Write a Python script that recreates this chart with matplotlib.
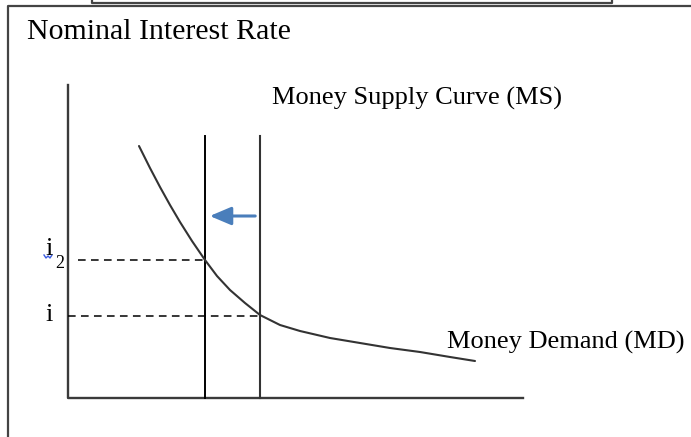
import matplotlib.pyplot as plt

# values (pixel-like units, y grows downward)
md_x = [139, 150, 160, 170, 180, 192, 205, 217, 230, 245, 260, 280, 300,
        330, 360, 390, 420, 450, 475]
md_y = [146, 168, 187, 205, 222, 241, 260, 276, 290, 303, 315, 325, 331,
        338, 343, 348, 352, 357, 361]
ms_x = [205, 260]
ms_top = 136
rate_levels = [260, 316]          # i2, i
rate_labels = ["i", "i"]
rate_dash_start = [78, 68]
axis_origin = (68, 398)
axis_top = 85
axis_right = 523
arrow_y = 216

plt.rcParams["font.family"] = ["Liberation Serif", "DejaVu Serif"]

fig = plt.figure(figsize=(6.91, 4.37), dpi=100)
ax = fig.add_axes([0, 0, 1, 1])
ax.set_xlim(0, 691)
ax.set_ylim(437, 0)
ax.axis("off")

# outer frame and top box
ax.plot([8, 8, 691], [437, 6, 6], color="#444444", lw=1.6)
ax.plot([92, 92, 612, 612], [0, 3, 3, 0], color="#444444", lw=1.6)

# axes
ox, oy = axis_origin
ax.plot([ox, ox, axis_right], [axis_top, oy, oy], color="#3a3a3a", lw=1.7)

# money supply lines
ax.plot([ms_x[0], ms_x[0]], [ms_top, oy], color="black", lw=1.4)
ax.plot([ms_x[1], ms_x[1]], [ms_top, oy], color="#333333", lw=1.5)

# money demand curve
ax.plot(md_x, md_y, color="#333333", lw=1.5, solid_capstyle="round",
        solid_joinstyle="round")

# dashed rate lines
for y, x0, xr in zip(rate_levels, rate_dash_start, ms_x):
    ax.plot([x0, xr], [y, y], color="black", lw=1.1, dashes=(5, 3.5))

# shift arrow
ax.annotate("", xy=(ms_x[0] + 2, arrow_y), xytext=(ms_x[1] - 2, arrow_y),
            arrowprops=dict(arrowstyle="-|>,head_length=1.3,head_width=0.55",
                            color="#4a7ebb", lw=2.2))

# texts
ax.text(27, 39, "Nominal Interest Rate", fontsize=21.5, ha="left", va="baseline")
ax.text(272, 105, "Money Supply Curve (MS)", fontsize=19, ha="left", va="baseline")
ax.text(447, 349, "Money Demand (MD)", fontsize=19, ha="left", va="baseline")
ax.text(45, 321, rate_labels[1], fontsize=19, ha="left", va="baseline")
ax.text(45, 255, rate_labels[0], fontsize=19, ha="left", va="baseline")
ax.text(55, 268, "2", fontsize=13, ha="left", va="baseline")
# spell-check squiggle under i2
ax.plot([44, 46, 48, 50, 52], [255, 258, 256, 258, 255], color="#3b5be0", lw=1)

fig.savefig("out.png", dpi=100, facecolor="white")
